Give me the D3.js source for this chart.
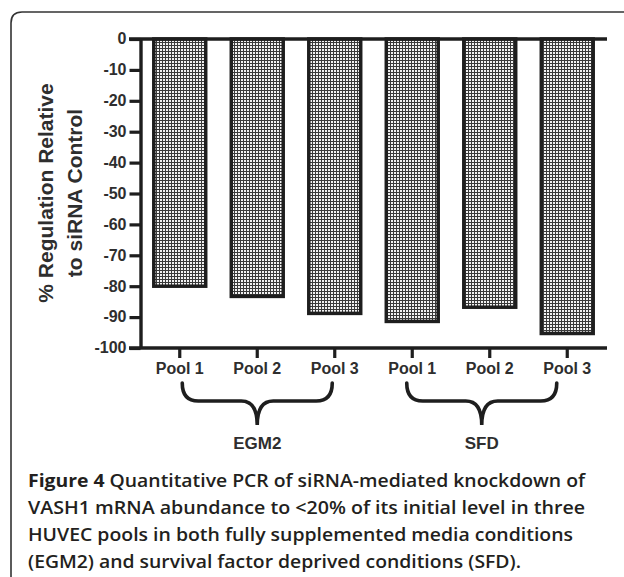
<!DOCTYPE html>
<html>
<head>
<meta charset="utf-8">
<script src="https://cdn.jsdelivr.net/npm/d3@7"></script>
<style>
  body { margin: 0; background: #fff; }
  svg text { font-family: "Liberation Sans", Arial, sans-serif; }
</style>
</head>
<body>
<div class="chart"></div>
<script>
var svgWidth = 624;
var svgHeight = 577;

// data
var pools = ["Pool 1", "Pool 2", "Pool 3", "Pool 1", "Pool 2", "Pool 3"];
var media = ["EGM2", "EGM2", "EGM2", "SFD", "SFD", "SFD"];
var regulation = [-80, -83.3, -88.8, -91.4, -86.8, -95.3];
var yTicks = [0, -10, -20, -30, -40, -50, -60, -70, -80, -90, -100];
var groupNames = ["EGM2", "SFD"];
var yTitle = ["% Regulation Relative", "to siRNA Control"];
var caption = [
  ["Figure 4", " Quantitative PCR of siRNA-mediated knockdown of"],
  ["", "VASH1 mRNA abundance to <20% of its initial level in three"],
  ["", "HUVEC pools in both fully supplemented media conditions"],
  ["", "(EGM2) and survival factor deprived conditions (SFD)."]
];

var ink = "#1e1e1e";
var textInk = "#2e2e2e";

var svg = d3.select(".chart")
  .append("svg")
  .attr("width", svgWidth)
  .attr("height", svgHeight);

// checker fill for the bars
var pattern = svg.append("defs").append("pattern")
  .attr("id", "checker")
  .attr("patternUnits", "userSpaceOnUse")
  .attr("width", 3)
  .attr("height", 3);
pattern.append("rect").attr("width", 3).attr("height", 3).attr("fill", "#3a3a3a");
pattern.append("rect").attr("x", 1).attr("y", 1).attr("width", 2).attr("height", 2).attr("fill", "#f2f2f2");

// rounded frame (top and left sides)
svg.append("path")
  .attr("d", "M624,12 H22 Q11,12 11,23 V577")
  .attr("fill", "none")
  .attr("stroke", "#333")
  .attr("stroke-width", 1.6);

// scales
var x = d3.scaleBand()
  .domain(d3.range(pools.length))
  .range([141, 606])
  .paddingInner(0.33)
  .paddingOuter(0.165);

var y = d3.scaleLinear()
  .domain([0, -100])
  .range([39, 348]);

// bars
svg.append("g").selectAll("rect")
  .data(regulation)
  .enter()
  .append("rect")
  .attr("x", (d, i) => x(i))
  .attr("y", y(0))
  .attr("width", x.bandwidth())
  .attr("height", d => y(d) - y(0))
  .attr("fill", "url(#checker)")
  .attr("stroke", ink)
  .attr("stroke-width", 3.5);

// y axis
var leftAxis = d3.axisLeft(y)
  .tickValues(yTicks)
  .tickFormat(d => String(d))
  .tickSize(11)
  .tickSizeOuter(0)
  .tickPadding(3);

var yAxis = svg.append("g")
  .attr("transform", "translate(140.5,0)")
  .call(leftAxis);
yAxis.select(".domain").attr("stroke", ink).attr("stroke-width", 3.4);
yAxis.selectAll(".tick line").attr("stroke", ink).attr("stroke-width", 3.2);
yAxis.selectAll(".tick text")
  .attr("fill", textInk)
  .attr("dy", "0.3em")
  .style("font-size", "16px")
  .style("font-weight", "bold");

// horizontal lines at 0 and -100
svg.append("g").selectAll("line")
  .data([0, -100])
  .enter()
  .append("line")
  .attr("x1", 129)
  .attr("x2", 607)
  .attr("y1", d => y(d))
  .attr("y2", d => y(d))
  .attr("stroke", ink)
  .attr("stroke-width", 3.4);

// x axis ticks and pool labels
var bottomAxis = d3.axisBottom(x)
  .tickFormat(i => pools[i])
  .tickSize(10)
  .tickSizeOuter(0)
  .tickPadding(5);

var xAxis = svg.append("g")
  .attr("transform", `translate(0,${y(-100)})`)
  .call(bottomAxis);
xAxis.select(".domain").remove();
xAxis.selectAll(".tick line").attr("stroke", ink).attr("stroke-width", 3.2);
xAxis.selectAll(".tick text")
  .attr("fill", textInk)
  .style("font-size", "16px")
  .style("font-weight", "bold");

// y axis title
svg.append("g").selectAll("text")
  .data(yTitle)
  .enter()
  .append("text")
  .attr("transform", (d, i) => `translate(${53 + i * 29},193) rotate(-90)`)
  .attr("text-anchor", "middle")
  .attr("fill", textInk)
  .style("font-size", "21px")
  .style("font-weight", "bold")
  .text(d => d);

// braces grouping pools by media
function bracePath(x1, x2, top, mid, tip) {
  var xm = (x1 + x2) / 2;
  return `M${x1},${top} Q${x1},${mid} ${x1 + 16},${mid} L${xm - 16},${mid} ` +
    `Q${xm},${mid} ${xm},${tip} Q${xm},${mid} ${xm + 16},${mid} ` +
    `L${x2 - 16},${mid} Q${x2},${mid} ${x2},${top}`;
}

var braceShift = [0, -8];
var braces = groupNames.map(function(g, k) {
  var idx = d3.range(media.length).filter(i => media[i] === g);
  var c = i => x(i) + x.bandwidth() / 2;
  return {
    name: g,
    x1: c(idx[0]) + 2.5 + braceShift[k],
    x2: c(idx[idx.length - 1]) - 2.5 + braceShift[k]
  };
});

var braceGroup = svg.append("g");
braceGroup.selectAll("path")
  .data(braces)
  .enter()
  .append("path")
  .attr("d", d => bracePath(d.x1, d.x2, 383, 401, 425))
  .attr("fill", "none")
  .attr("stroke", ink)
  .attr("stroke-width", 3.6)
  .attr("stroke-linecap", "round");

braceGroup.selectAll("text")
  .data(braces)
  .enter()
  .append("text")
  .attr("x", d => (d.x1 + d.x2) / 2)
  .attr("y", 449)
  .attr("text-anchor", "middle")
  .attr("fill", textInk)
  .style("font-size", "17px")
  .style("font-weight", "bold")
  .text(d => d.name);

// caption
var lineEnds = [585, 585, 573, 521];
var cap = svg.append("g");
caption.forEach(function(parts, i) {
  var t = cap.append("text")
    .attr("x", 28)
    .attr("y", 487 + i * 27)
    .attr("fill", "#231f20")
    .style("font-family", "'Open Sans', sans-serif")
    .style("font-size", "18px")
    .style("font-weight", "600");
  if (parts[0]) {
    t.append("tspan").style("font-weight", "bold").text(parts[0]);
  }
  t.append("tspan").text(parts[1]);
  t.attr("textLength", lineEnds[i] - 28).attr("lengthAdjust", "spacingAndGlyphs");
});
</script>
</body>
</html>
